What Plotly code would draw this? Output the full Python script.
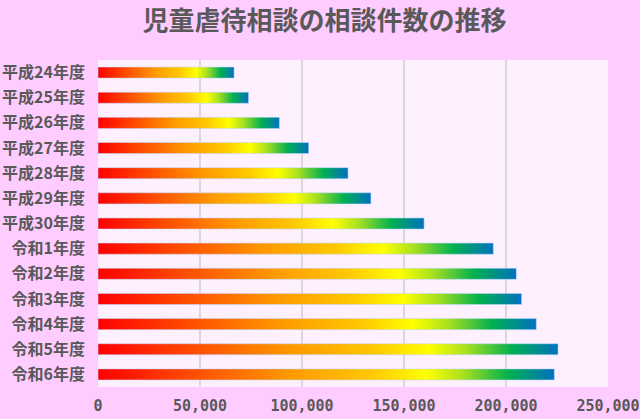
import plotly.graph_objects as go

# 児童虐待相談の相談件数（年度別）
years = ["平成24年度", "平成25年度", "平成26年度", "平成27年度", "平成28年度",
         "平成29年度", "平成30年度", "令和1年度", "令和2年度", "令和3年度",
         "令和4年度", "令和5年度", "令和6年度"]
counts = [66701, 73802, 88931, 103286, 122575, 133778, 159838,
          193780, 205044, 207660, 214843, 225509, 223691]
x_ticks = [0, 50000, 100000, 150000, 200000, 250000]

bar_colors = [[0.0, "#FF0000"], [0.2, "#FF4A00"], [0.42, "#FF9900"],
              [0.6, "#FFC800"], [0.72, "#FFFF00"], [0.8, "#A8E020"],
              [0.9, "#00B050"], [1.0, "#0070C0"]]
half = 0.22
text_color = "#595959"
font_family = "Noto Sans CJK JP"

fig = go.Figure()

# each bar is a filled polygon so it can carry its own left-to-right gradient
for i, (name, val) in enumerate(zip(years, counts)):
    fig.add_trace(go.Scatter(
        x=[0, val, val, 0, 0],
        y=[i - half, i - half, i + half, i + half, i - half],
        mode="lines",
        fill="toself",
        fillgradient=dict(type="horizontal", colorscale=bar_colors),
        line=dict(color="rgba(190,215,255,0.7)", width=0.8),
        name=name,
        hoverinfo="text",
        text=f"{name}: {val:,}",
        showlegend=False,
    ))

fig.update_layout(
    width=640, height=419,
    paper_bgcolor="#FFCCFF",
    plot_bgcolor="#FFF0FF",
    margin=dict(l=98, r=32, t=60, b=32),
    title=dict(text="<b>児童虐待相談の相談件数の推移</b>", x=0.507, xanchor="center",
               y=0.95, yanchor="middle",
               font=dict(family=font_family, size=26, color=text_color)),
    font=dict(family=font_family, color=text_color),
)

fig.update_xaxes(
    range=[0, 250000],
    tickvals=x_ticks,
    ticktext=[f"<b>{v:,}</b>" for v in x_ticks],
    tickfont=dict(family="DejaVu Sans Mono", size=15, color=text_color),
    showgrid=True, gridcolor="#D9D9D9", gridwidth=2,
    zeroline=False, showline=False,
    ticklabelstandoff=8,
    ticklabeloverflow="allow",
    automargin=False,
    fixedrange=True,
)
fig.update_yaxes(
    range=[len(years) - 0.5, -0.5],
    tickvals=list(range(len(years))),
    ticktext=[f"<b>{y}</b>" for y in years],
    tickfont=dict(size=16, color=text_color),
    showgrid=False, zeroline=False, showline=False,
    ticklabelstandoff=12,
    automargin=False,
    fixedrange=True,
)

# drop the default page margin so the figure fills the window
fig.write_html("out.html", config={"displayModeBar": False},
               post_script="document.body.style.margin='0';")
